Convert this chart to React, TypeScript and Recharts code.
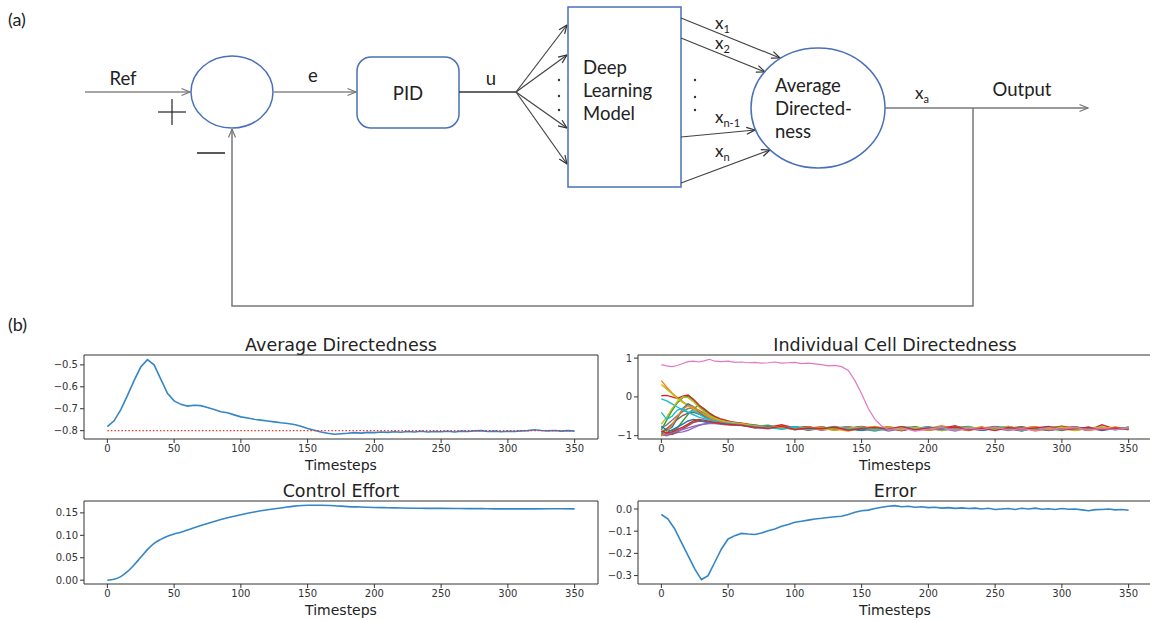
import React from "react";
import { LineChart, Line, XAxis, YAxis, ReferenceArea } from "recharts";

// shared x axis
const xTicks = [0, 50, 100, 150, 200, 250, 300, 350];
const xDomain: [number, number] = [-17.5, 367.5];

// average directedness / error, one value every 5 timesteps
const avgSteps = [
  0, 5, 10, 15, 20, 25, 30, 35, 40, 45, 50, 55, 60, 65, 70, 75, 80, 85, 90, 95, 100, 105, 110, 115, 120, 125, 130, 135,
  140, 145, 150, 155, 160, 165, 170, 175, 180, 185, 190, 195, 200, 205, 210, 215, 220, 225, 230, 235, 240, 245, 250,
  255, 260, 265, 270, 275, 280, 285, 290, 295, 300, 305, 310, 315, 320, 325, 330, 335, 340, 345, 350,
];
const avgDirectedness = [
  -0.782, -0.755, -0.705, -0.64, -0.572, -0.51, -0.476, -0.5, -0.565, -0.63, -0.664, -0.68, -0.688, -0.684, -0.686,
  -0.694, -0.703, -0.714, -0.718, -0.728, -0.737, -0.742, -0.748, -0.752, -0.756, -0.76, -0.764, -0.767, -0.772, -0.78,
  -0.79, -0.798, -0.806, -0.812, -0.816, -0.814, -0.812, -0.809, -0.811, -0.808, -0.809, -0.806, -0.808, -0.805,
  -0.807, -0.804, -0.806, -0.803, -0.806, -0.804, -0.805, -0.803, -0.806, -0.802, -0.804, -0.801, -0.8, -0.804,
  -0.802, -0.805, -0.803, -0.804, -0.801, -0.8, -0.796, -0.799, -0.801, -0.799, -0.802, -0.8, -0.802,
];
const refSteps = [0, 349];
const refValues = [-0.8, -0.8];
const errorValues = [
  -0.025, -0.045, -0.09, -0.15, -0.21, -0.27, -0.318, -0.3, -0.24, -0.18, -0.135, -0.12, -0.11, -0.113, -0.115,
  -0.108, -0.098, -0.09, -0.078, -0.07, -0.06, -0.055, -0.05, -0.045, -0.042, -0.038, -0.035, -0.033, -0.025, -0.015,
  -0.008, -0.005, 0.002, 0.008, 0.012, 0.015, 0.01, 0.012, 0.008, 0.01, 0.006, 0.008, 0.004, 0.006, 0.003, 0.005,
  0.002, 0.004, 0.0, 0.003, -0.002, 0.0, 0.002, -0.002, 0.003, 0.0, 0.004, -0.001, 0.001, -0.002, 0.002, -0.001, 0.0,
  -0.004, -0.008, -0.003, -0.002, 0.0, -0.004, -0.002, -0.006,
];

// control effort
const ctrlSteps = [
  0, 5, 10, 15, 20, 25, 30, 35, 40, 45, 50, 55, 60, 70, 80, 90, 100, 110, 120, 130, 140, 150, 160, 170, 180, 190, 200,
  210, 220, 230, 240, 250, 260, 270, 280, 290, 300, 310, 320, 330, 340, 350,
];
const controlEffort = [
  0.0, 0.002, 0.008, 0.019, 0.034, 0.051, 0.068, 0.082, 0.091, 0.098, 0.103, 0.107, 0.112, 0.122, 0.131, 0.139, 0.146,
  0.152, 0.157, 0.161, 0.165, 0.167, 0.167, 0.166, 0.164, 0.163, 0.162, 0.1615, 0.161, 0.1605, 0.16, 0.16, 0.1598,
  0.1595, 0.1595, 0.159, 0.159, 0.159, 0.159, 0.1592, 0.1592, 0.159,
];

// individual cells
const cellSteps = [
  0, 4, 8, 12, 16, 20, 24, 28, 32, 36, 40, 44, 48, 52, 56, 60, 70, 80, 90, 100, 110, 120, 130, 140, 150, 160, 170, 180,
  190, 200, 210, 220, 230, 240, 250, 260, 270, 280, 290, 300, 310, 320, 330, 340, 350,
];
const cellColors = [
  "#9467bd", "#8c564b", "#2ca02c",
  "#1f77b4", "#ff7f0e", "#2ca02c", "#d62728", "#9467bd", "#8c564b", "#7f7f7f", "#bcbd22", "#17becf",
  "#1f77b4", "#ff7f0e", "#bcbd22", "#17becf", "#d62728",
];
const cellValues = [
  [-0.97, -1.0, -0.95, -0.92, -0.9, -0.86, -0.8, -0.74, -0.7, -0.68, -0.69, -0.7, -0.72, -0.71, -0.73, -0.74,
    -0.79, -0.82, -0.78, -0.85, -0.81, -0.77, -0.84, -0.8, -0.86, -0.82, -0.79, -0.83, -0.78, -0.85, -0.81, -0.88,
    -0.8, -0.83, -0.79, -0.84, -0.81, -0.77, -0.86, -0.8, -0.83, -0.78, -0.85, -0.81, -0.82],
  [-1.0, -0.94, -0.97, -0.9, -0.82, -0.74, -0.66, -0.62, -0.63, -0.65, -0.67, -0.69, -0.7, -0.72, -0.73, -0.72,
    -0.8, -0.77, -0.83, -0.79, -0.86, -0.81, -0.78, -0.84, -0.8, -0.83, -0.77, -0.85, -0.82, -0.79, -0.87, -0.8,
    -0.82, -0.78, -0.84, -0.81, -0.86, -0.79, -0.83, -0.8, -0.77, -0.84, -0.82, -0.79, -0.85],
  [-0.92, -0.85, -0.88, -0.8, -0.62, -0.45, -0.3, -0.22, -0.3, -0.42, -0.52, -0.58, -0.63, -0.66, -0.68, -0.7,
    -0.74, -0.79, -0.81, -0.77, -0.83, -0.8, -0.86, -0.79, -0.82, -0.78, -0.84, -0.81, -0.85, -0.79, -0.83, -0.77,
    -0.82, -0.86, -0.8, -0.84, -0.78, -0.83, -0.81, -0.87, -0.79, -0.82, -0.8, -0.84, -0.78],
  [-0.95, -0.92, -0.85, -0.78, -0.7, -0.62, -0.58, -0.6, -0.64, -0.66, -0.68, -0.67, -0.7, -0.69, -0.72, -0.71,
    -0.74, -0.76, -0.78, -0.8, -0.77, -0.83, -0.79, -0.85, -0.8, -0.82, -0.78, -0.86, -0.81, -0.77, -0.84, -0.8, -0.87,
    -0.79, -0.82, -0.76, -0.85, -0.81, -0.78, -0.84, -0.8, -0.86, -0.79, -0.83, -0.8],
  [0.42, 0.25, 0.1, -0.02, -0.12, -0.22, -0.32, -0.4, -0.46, -0.52, -0.56, -0.6, -0.62, -0.65, -0.67, -0.68,
    -0.72, -0.78, -0.75, -0.81, -0.84, -0.78, -0.82, -0.88, -0.8, -0.76, -0.83, -0.79, -0.85, -0.81, -0.74, -0.82,
    -0.86, -0.8, -0.77, -0.84, -0.79, -0.88, -0.81, -0.75, -0.83, -0.8, -0.85, -0.78, -0.82],
  [-0.85, -0.6, -0.35, -0.15, -0.02, 0.02, -0.08, -0.22, -0.36, -0.46, -0.54, -0.6, -0.64, -0.66, -0.69, -0.7,
    -0.76, -0.73, -0.8, -0.77, -0.84, -0.81, -0.76, -0.83, -0.87, -0.79, -0.82, -0.77, -0.8, -0.86, -0.82, -0.78,
    -0.81, -0.84, -0.76, -0.8, -0.85, -0.82, -0.79, -0.77, -0.86, -0.81, -0.78, -0.84, -0.8],
  [0.03, 0.04, 0.0, -0.04, 0.02, 0.05, -0.06, -0.2, -0.32, -0.42, -0.5, -0.56, -0.6, -0.64, -0.66, -0.68,
    -0.74, -0.79, -0.72, -0.8, -0.77, -0.85, -0.79, -0.82, -0.76, -0.84, -0.8, -0.87, -0.78, -0.83, -0.81, -0.74,
    -0.85, -0.8, -0.78, -0.82, -0.88, -0.79, -0.84, -0.76, -0.81, -0.86, -0.72, -0.83, -0.79],
  [-0.98, -0.96, -0.92, -0.88, -0.84, -0.8, -0.76, -0.72, -0.7, -0.68, -0.67, -0.69, -0.7, -0.72, -0.71, -0.73,
    -0.75, -0.8, -0.78, -0.83, -0.79, -0.86, -0.81, -0.77, -0.84, -0.8, -0.88, -0.82, -0.79, -0.85, -0.78, -0.83,
    -0.8, -0.86, -0.81, -0.77, -0.84, -0.79, -0.87, -0.82, -0.78, -0.85, -0.8, -0.83, -0.81],
  [-0.9, -0.82, -0.7, -0.58, -0.48, -0.42, -0.4, -0.44, -0.5, -0.55, -0.6, -0.63, -0.66, -0.68, -0.7, -0.71,
    -0.73, -0.77, -0.81, -0.78, -0.82, -0.79, -0.84, -0.8, -0.77, -0.83, -0.81, -0.86, -0.79, -0.82, -0.78, -0.85,
    -0.81, -0.79, -0.84, -0.8, -0.77, -0.83, -0.86, -0.8, -0.82, -0.78, -0.84, -0.81, -0.79],
  [-0.8, -0.72, -0.6, -0.48, -0.38, -0.3, -0.28, -0.34, -0.42, -0.5, -0.56, -0.61, -0.64, -0.67, -0.69, -0.7,
    -0.75, -0.78, -0.76, -0.82, -0.79, -0.85, -0.8, -0.77, -0.83, -0.88, -0.81, -0.78, -0.84, -0.8, -0.86, -0.79,
    -0.76, -0.83, -0.81, -0.87, -0.8, -0.78, -0.84, -0.82, -0.77, -0.85, -0.8, -0.83, -0.79],
  [0.32, 0.2, 0.08, -0.04, -0.14, -0.22, -0.3, -0.38, -0.45, -0.52, -0.57, -0.61, -0.64, -0.67, -0.68, -0.7,
    -0.77, -0.74, -0.8, -0.83, -0.78, -0.81, -0.86, -0.79, -0.82, -0.77, -0.85, -0.8, -0.83, -0.78, -0.87, -0.81,
    -0.79, -0.84, -0.8, -0.76, -0.85, -0.82, -0.79, -0.83, -0.87, -0.8, -0.78, -0.82, -0.81],
  [-0.05, -0.1, -0.18, -0.26, -0.34, -0.4, -0.46, -0.52, -0.56, -0.6, -0.63, -0.65, -0.67, -0.69, -0.7, -0.71,
    -0.74, -0.78, -0.8, -0.77, -0.83, -0.8, -0.78, -0.85, -0.81, -0.79, -0.84, -0.8, -0.82, -0.78, -0.85, -0.81,
    -0.83, -0.79, -0.84, -0.8, -0.82, -0.78, -0.85, -0.81, -0.83, -0.79, -0.84, -0.8, -0.82],
  [-0.75, -0.86, -0.78, -0.55, -0.3, -0.18, -0.25, -0.38, -0.48, -0.55, -0.6, -0.64, -0.66, -0.68, -0.7, -0.72,
    -0.78, -0.75, -0.81, -0.79, -0.84, -0.78, -0.82, -0.8, -0.86, -0.79, -0.83, -0.81, -0.77, -0.84, -0.8, -0.82,
    -0.78, -0.86, -0.81, -0.79, -0.83, -0.8, -0.85, -0.78, -0.82, -0.8, -0.87, -0.81, -0.79],
  [-1.0, -0.9, -0.72, -0.5, -0.32, -0.22, -0.26, -0.36, -0.46, -0.54, -0.59, -0.63, -0.66, -0.68, -0.69, -0.71,
    -0.76, -0.79, -0.77, -0.83, -0.8, -0.78, -0.85, -0.81, -0.79, -0.84, -0.77, -0.82, -0.8, -0.86, -0.79, -0.83,
    -0.81, -0.78, -0.85, -0.8, -0.82, -0.77, -0.84, -0.81, -0.79, -0.86, -0.82, -0.78, -0.83],
  [-0.7, -0.52, -0.3, -0.12, 0.0, -0.02, -0.12, -0.26, -0.38, -0.48, -0.55, -0.6, -0.64, -0.66, -0.68, -0.69,
    -0.75, -0.8, -0.78, -0.82, -0.8, -0.84, -0.79, -0.81, -0.78, -0.83, -0.8, -0.85, -0.79, -0.82, -0.8, -0.84,
    -0.78, -0.81, -0.83, -0.79, -0.86, -0.8, -0.82, -0.78, -0.84, -0.81, -0.79, -0.83, -0.8],
  [-0.4, -0.58, -0.5, -0.34, -0.3, -0.4, -0.36, -0.44, -0.52, -0.58, -0.62, -0.65, -0.67, -0.69, -0.7, -0.72,
    -0.77, -0.8, -0.82, -0.79, -0.84, -0.81, -0.78, -0.83, -0.8, -0.86, -0.82, -0.79, -0.84, -0.81, -0.78, -0.85,
    -0.8, -0.83, -0.79, -0.82, -0.86, -0.81, -0.78, -0.84, -0.8, -0.83, -0.81, -0.85, -0.8],
  [-0.88, -0.93, -0.9, -0.84, -0.78, -0.7, -0.62, -0.58, -0.6, -0.63, -0.66, -0.68, -0.7, -0.71, -0.72, -0.73,
    -0.78, -0.81, -0.76, -0.84, -0.8, -0.82, -0.78, -0.86, -0.81, -0.79, -0.83, -0.77, -0.85, -0.8, -0.82, -0.78,
    -0.84, -0.81, -0.87, -0.79, -0.83, -0.8, -0.76, -0.84, -0.82, -0.79, -0.85, -0.8, -0.83],
];
// the one cell that stays near +1 until ~t=140
const outlierSteps = [
  0, 4, 8, 12, 16, 20, 24, 28, 32, 36, 40, 45, 50, 55, 60, 65, 70, 75, 80, 85, 90, 95, 100, 105, 110, 115, 120, 125,
  130, 135, 140, 145, 150, 155, 160, 165, 170, 180, 190, 200, 210, 220, 230, 240, 250, 260, 270, 280, 290, 300, 310,
  320, 330, 340, 350,
];
const outlierValues = [
  0.83, 0.8, 0.78, 0.81, 0.86, 0.91, 0.92, 0.9, 0.93, 0.97, 0.92, 0.91, 0.92, 0.89, 0.9, 0.88, 0.89, 0.87, 0.88, 0.9,
  0.87, 0.88, 0.89, 0.86, 0.87, 0.85, 0.83, 0.8, 0.81, 0.78, 0.68, 0.42, 0.08, -0.3, -0.58, -0.75, -0.84, -0.8, -0.88,
  -0.83, -0.79, -0.86, -0.81, -0.84, -0.78, -0.85, -0.82, -0.87, -0.8, -0.83, -0.79, -0.85, -0.81, -0.84, -0.8,
];

const pts = (steps: number[], vals: number[]) => steps.map((t, i) => ({ t, v: vals[i] }));
const minus = (s: string) => s.replace("-", "\u2212");

const tickStyle = { fontSize: 10, fill: "#333", fontFamily: "DejaVu Sans" };
const LINE_BLUE = "#3486c6";

type PanelProps = {
  left: number;
  top: number;
  width: number;
  margin: { top: number; right: number; bottom: number; left: number };
  title: string;
  yDomain: [number, number];
  yTicks: number[];
  digits: number;
  children: React.ReactNode;
};

const Panel = ({ left, top, width, margin, title, yDomain, yTicks, digits, children }: PanelProps) => {
  const plotLeft = margin.left + 50;
  const plotRight = width - margin.right;
  return (
    <div style={{ position: "absolute", left, top, width, height: 145 }}>
      <div
        style={{
          position: "absolute",
          left: plotLeft,
          width: plotRight - plotLeft,
          top: 5,
          textAlign: "center",
          fontFamily: "DejaVu Sans",
          fontSize: 17.5,
          lineHeight: "20px",
          color: "#222",
        }}
      >
        {title}
      </div>
      <LineChart width={width} height={145} margin={margin}>
        <XAxis
          type="number"
          dataKey="t"
          domain={xDomain}
          allowDataOverflow
          ticks={xTicks}
          interval={0}
          tickSize={4}
          axisLine={false}
          tickLine={{ stroke: "#333" }}
          tick={tickStyle}
          height={32}
          label={{ value: "Timesteps", position: "insideBottom", offset: 1, fontSize: 14, fill: "#222", fontFamily: "DejaVu Sans" }}
        />
        <YAxis
          type="number"
          dataKey="v"
          domain={yDomain}
          allowDataOverflow
          ticks={yTicks}
          interval={0}
          tickSize={4}
          axisLine={false}
          tickLine={{ stroke: "#333" }}
          tick={tickStyle}
          width={50}
          tickFormatter={(v: number) => minus(v.toFixed(digits))}
        />
        {children}
        <ReferenceArea
          x1={xDomain[0]}
          x2={xDomain[1]}
          y1={yDomain[0]}
          y2={yDomain[1]}
          fill="none"
          stroke="#333"
          strokeWidth={1}
        />
      </LineChart>
    </div>
  );
};

const BLUE = "#4a70b8";

const Diagram = () => (
  <svg width={1150} height={340} style={{ position: "absolute", left: 0, top: 0 }} fontFamily="Lato" fill="#222">
    <defs>
      <marker id="hg" viewBox="0 0 10 10" refX="9.5" refY="5" markerWidth="10" markerHeight="10" markerUnits="userSpaceOnUse" orient="auto">
        <path d="M1,1.5 L9.5,5 L1,8.5" fill="none" stroke="#777" strokeWidth="1.2" />
      </marker>
      <marker id="hd" viewBox="0 0 10 10" refX="9.5" refY="5" markerWidth="10" markerHeight="10" markerUnits="userSpaceOnUse" orient="auto">
        <path d="M1,1.5 L9.5,5 L1,8.5" fill="none" stroke="#333" strokeWidth="1.2" />
      </marker>
    </defs>
    <text x={8} y={26} fontSize={18}>(a)</text>
    <text x={8} y={331} fontSize={18}>(b)</text>

    {/* reference input and summing junction */}
    <line x1={85} y1={92} x2={190} y2={92} stroke="#888" strokeWidth={1.5} markerEnd="url(#hg)" />
    <text x={123} y={85} fontSize={18.5} textAnchor="middle">Ref</text>
    <line x1={158} y1={112} x2={186} y2={112} stroke="#222" strokeWidth={1.2} />
    <line x1={172} y1={99} x2={172} y2={125} stroke="#222" strokeWidth={1.2} />
    <line x1={197} y1={153} x2={225} y2={153} stroke="#222" strokeWidth={1.5} />
    <ellipse cx={232} cy={92} rx={41} ry={36} fill="none" stroke={BLUE} strokeWidth={1.5} />

    <line x1={274} y1={92} x2={356} y2={92} stroke="#888" strokeWidth={1.5} markerEnd="url(#hg)" />
    <text x={313} y={82} fontSize={18.5} textAnchor="middle">e</text>

    <rect x={357} y={57} width={102} height={71} rx={14} fill="none" stroke={BLUE} strokeWidth={1.5} />
    <text x={408} y={100} fontSize={18.5} textAnchor="middle">PID</text>

    <line x1={459} y1={92} x2={516} y2={92} stroke="#333" strokeWidth={1.5} />
    <text x={491} y={85} fontSize={18.5} textAnchor="middle">u</text>
    {[25, 55, 128, 164].map((y) => (
      <line key={y} x1={516} y1={92} x2={567} y2={y} stroke="#444" strokeWidth={1.2} markerEnd="url(#hd)" />
    ))}
    {[80, 96, 110].map((y) => (
      <circle key={y} cx={559} cy={y} r={1.2} fill="#333" />
    ))}

    <rect x={568} y={7} width={113} height={180} fill="none" stroke={BLUE} strokeWidth={1.5} />
    <text x={583} y={74} fontSize={18.5}>Deep</text>
    <text x={583} y={97} fontSize={18.5}>Learning</text>
    <text x={583} y={120} fontSize={18.5}>Model</text>

    <line x1={681} y1={18} x2={780} y2={58} stroke="#444" strokeWidth={1.2} markerEnd="url(#hd)" />
    <line x1={681} y1={38} x2={765} y2={72} stroke="#444" strokeWidth={1.2} markerEnd="url(#hd)" />
    <line x1={681} y1={137} x2={755} y2={130} stroke="#444" strokeWidth={1.2} markerEnd="url(#hd)" />
    <line x1={681} y1={183} x2={770} y2={150} stroke="#444" strokeWidth={1.2} markerEnd="url(#hd)" />
    {[80, 97, 110].map((y) => (
      <circle key={y} cx={695} cy={y} r={1.2} fill="#333" />
    ))}
    <text x={715} y={29} fontSize={17}>x<tspan dy={4} fontSize={11}>1</tspan></text>
    <text x={715} y={49} fontSize={17}>x<tspan dy={4} fontSize={11}>2</tspan></text>
    <text x={715} y={123} fontSize={17}>x<tspan dy={4} fontSize={11}>n-1</tspan></text>
    <text x={715} y={157} fontSize={17}>x<tspan dy={4} fontSize={11}>n</tspan></text>

    <ellipse cx={818} cy={108} rx={67} ry={60} fill="none" stroke={BLUE} strokeWidth={1.5} />
    <text x={775} y={92} fontSize={18.5}>Average</text>
    <text x={775} y={115} fontSize={18.5}>Directed-</text>
    <text x={775} y={138} fontSize={18.5}>ness</text>

    <line x1={885} y1={108} x2={1088} y2={108} stroke="#777" strokeWidth={1.5} markerEnd="url(#hg)" />
    <text x={915} y={99} fontSize={17}>x<tspan dy={4} fontSize={11}>a</tspan></text>
    <text x={1022} y={96} fontSize={18.5} textAnchor="middle">Output</text>

    <polyline points="973,108 973,306 232,306 232,129" fill="none" stroke="#777" strokeWidth={1.5} markerEnd="url(#hg)" />
  </svg>
);

const leftMargin = (bottom: number) => ({ top: 25, right: 22, bottom, left: 34 });
const rightMargin = (bottom: number) => ({ top: 25, right: 8, bottom, left: 8 });

export default function App() {
  return (
    <div
      style={{
        position: "absolute",
        left: 0,
        top: 0,
        width: 1150,
        height: 620,
        background: "#fff",
        overflow: "hidden",
      }}
    >
      <Diagram />

      <Panel
        left={0}
        top={330}
        width={620}
        margin={leftMargin(4)}
        title="Average Directedness"
        yDomain={[-0.838, -0.455]}
        yTicks={[-0.8, -0.7, -0.6, -0.5]}
        digits={1}
      >
        <Line
          data={pts(avgSteps, avgDirectedness)}
          dataKey="v"
          stroke={LINE_BLUE}
          strokeWidth={1.6}
          dot={false}
          activeDot={false}
          isAnimationActive={false}
        />
        <Line
          data={pts(refSteps, refValues)}
          dataKey="v"
          stroke="#e8302a"
          strokeWidth={1.2}
          strokeDasharray="1.5 2"
          dot={false}
          activeDot={false}
          isAnimationActive={false}
        />
      </Panel>

      <Panel
        left={580}
        top={330}
        width={580}
        margin={rightMargin(4)}
        title="Individual Cell Directedness"
        yDomain={[-1.085, 1.08]}
        yTicks={[-1, 0, 1]}
        digits={0}
      >
        {cellValues.map((vals, i) => (
          <Line
            key={"c" + i}
            data={pts(cellSteps, vals)}
            dataKey="v"
            stroke={cellColors[i]}
            strokeWidth={1.4}
            dot={false}
            activeDot={false}
            isAnimationActive={false}
          />
        ))}
        <Line
          data={pts(outlierSteps, outlierValues)}
          dataKey="v"
          stroke="#e377c2"
          strokeWidth={1.2}
          dot={false}
          activeDot={false}
          isAnimationActive={false}
        />
      </Panel>

      <Panel
        left={0}
        top={476}
        width={620}
        margin={leftMargin(5)}
        title="Control Effort"
        yDomain={[-0.0085, 0.1765]}
        yTicks={[0, 0.05, 0.1, 0.15]}
        digits={2}
      >
        <Line
          type="monotone"
          data={pts(ctrlSteps, controlEffort)}
          dataKey="v"
          stroke={LINE_BLUE}
          strokeWidth={1.6}
          dot={false}
          activeDot={false}
          isAnimationActive={false}
        />
      </Panel>

      <Panel
        left={580}
        top={476}
        width={580}
        margin={rightMargin(5)}
        title="Error"
        yDomain={[-0.338, 0.036]}
        yTicks={[-0.3, -0.2, -0.1, 0]}
        digits={1}
      >
        <Line
          data={pts(avgSteps, errorValues)}
          dataKey="v"
          stroke={LINE_BLUE}
          strokeWidth={1.6}
          dot={false}
          activeDot={false}
          isAnimationActive={false}
        />
      </Panel>
    </div>
  );
}
